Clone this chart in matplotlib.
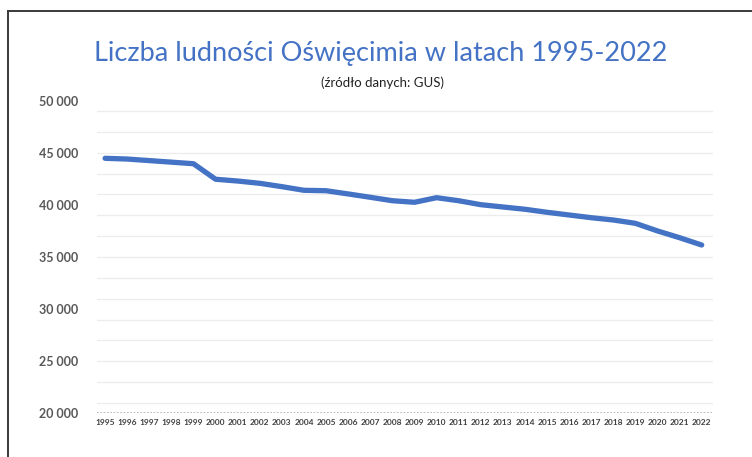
import matplotlib.pyplot as plt
from matplotlib.lines import Line2D
from matplotlib.ticker import FuncFormatter

# ── Data ──────────────────────────────────────────────────────────────────────
years = list(range(1995, 2023))
population = [44470, 44400, 44250, 44100, 43950, 42460, 42290, 42070, 41750,
              41400, 41360, 41050, 40730, 40400, 40250, 40690, 40400, 40020,
              39800, 39580, 39290, 39030, 38770, 38550, 38230, 37500, 36850,
              36150]
y_ticks = [20000, 25000, 30000, 35000, 40000, 45000, 50000]
grid_levels = list(range(21000, 50000, 2000))

TITLE = 'Liczba ludności Oświęcimia w latach 1995-2022'
SUBTITLE = '(źródło danych: GUS)'
BLUE = '#4472c4'

plt.rcParams['font.family'] = ['Lato', 'DejaVu Sans']

fig = plt.figure(figsize=(7.52, 4.57), dpi=100)
ax = fig.add_axes([0.1286, 0.0956, 0.8195, 0.6841])

for g in grid_levels:
    ax.axhline(g, color='#ececec', linewidth=0.9, zorder=0)
ax.axhline(20000, color='#b0b0b0', linewidth=1.2, linestyle=(0, (1, 1)), zorder=1)

ax.plot(years, population, color=BLUE, linewidth=3.8, solid_capstyle='round',
        solid_joinstyle='round', zorder=3)

ax.set_xlim(1994.62, 2022.51)
ax.set_ylim(20000, 50000)
ax.set_yticks(y_ticks)
ax.yaxis.set_major_formatter(FuncFormatter(lambda v, _: f'{int(v):,}'.replace(',', ' ')))
ax.set_xticks(years)
ax.set_xticklabels([str(y) for y in years])
ax.tick_params(axis='y', length=0, pad=13, labelsize=9, labelcolor='#595959')
ax.tick_params(axis='x', length=0, pad=4, labelsize=6, labelcolor='#404040')
for lab in ax.get_yticklabels() + ax.get_xticklabels():
    lab.set_fontweight('bold')
for s in ax.spines.values():
    s.set_visible(False)

fig.text(0.506, 0.883, TITLE, ha='center', va='center', fontsize=19.5, color=BLUE)
fig.text(0.509, 0.82, SUBTITLE, ha='center', va='center', fontsize=9.5, color='#222222')

# ramka
fig.add_artist(Line2D([8 / 752, 8 / 752], [0, 1 - 11 / 457], transform=fig.transFigure,
                      color='#3a3a3a', linewidth=1.4))
fig.add_artist(Line2D([8 / 752, 1], [1 - 11 / 457, 1 - 11 / 457], transform=fig.transFigure,
                      color='#3a3a3a', linewidth=1.4))

fig.savefig('out.png', dpi=100)
